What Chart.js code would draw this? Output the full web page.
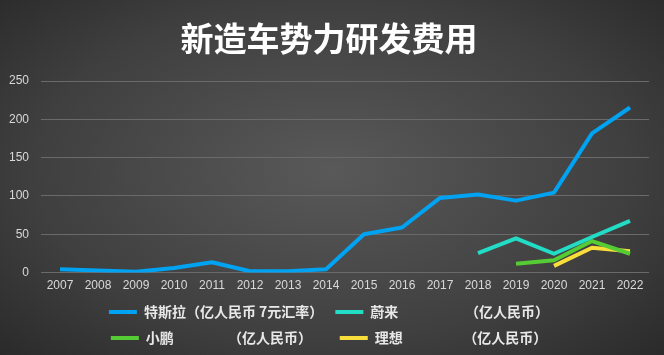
<!DOCTYPE html>
<html>
<head>
<meta charset="utf-8">
<script src="https://cdn.jsdelivr.net/npm/chart.js@4"></script>
<style>
  html, body { margin: 0; padding: 0; }
  body { width: 664px; height: 355px; overflow: hidden;
    background: radial-gradient(ellipse 75% 80% at 50% 48%, #595959 0%, #3f3f3f 60%, #262626 100%); }
  #wrap { position: relative; width: 664px; height: 355px; }
</style>
</head>
<body>
<div id="wrap"><canvas id="c"></canvas></div>
<script>
const titleText = '新造车势力研发费用';
const years = ['2007','2008','2009','2010','2011','2012','2013','2014','2015','2016','2017','2018','2019','2020','2021','2022'];
const seriesNames = [
  '特斯拉（亿人民币 7元汇率）',
  '蔚来                     （亿人民币）',
  '小鹏                 （亿人民币）     ',
  '理想                   （亿人民币）'
];
const tesla = [4.3, 2.6, 1, 6, 13.5, 1.7, 1.8, 4.4, 50, 58.8, 97.4, 101.8, 93.9, 104.4, 181.6, 215.4];
const nio   = [null, null, null, null, null, null, null, null, null, null, null, 25.4, 44.7, 24.6, 46.5, 67.5];
const xpeng = [null, null, null, null, null, null, null, null, null, null, null, null, 11.4, 16.2, 41.2, 24.6];
const li    = [null, null, null, null, null, null, null, null, null, null, null, null, null, 8.8, 32.5, 28];
const yTicks = [0, 50, 100, 150, 200, 250];
const colors = ['#00a2f2', '#22dcc6', '#55cc33', '#f7de3a'];

const fontCJK = "'Noto Sans CJK SC', 'Liberation Sans', sans-serif";
const fontNum = "'Liberation Sans', Arial, sans-serif";

const titleShadow = {
  id: 'titleShadow',
  afterDatasetsDraw(chart) {
    const ctx = chart.ctx;
    ctx.save();
    ctx.shadowColor = 'rgba(0,0,0,0.75)';
    ctx.shadowBlur = 3;
    ctx.shadowOffsetX = 2;
    ctx.shadowOffsetY = 2;
  },
  afterDraw(chart) {
    chart.ctx.restore();
  }
};

const data = [tesla, nio, xpeng, li];
new Chart(document.getElementById('c'), {
  type: 'line',
  data: {
    labels: years,
    datasets: data.map((d, i) => ({
      label: seriesNames[i],
      data: d,
      borderColor: colors[i],
      backgroundColor: colors[i],
      borderWidth: 4,
      pointRadius: 0,
      pointHoverRadius: 0,
      tension: 0,
      fill: false,
      spanGaps: false,
      borderCapStyle: 'butt',
      borderJoinStyle: 'round'
    }))
  },
  options: {
    responsive: true,
    maintainAspectRatio: false,
    animation: false,
    layout: { padding: { left: 9, right: 15, top: 0, bottom: 0 } },
    plugins: {
      title: {
        display: true,
        text: titleText,
        color: '#ffffff',
        font: { family: fontCJK, size: 33, weight: 'bold', lineHeight: 1.2 },
        padding: { top: 19, bottom: 22.4 },
        z: 1
      },
      legend: {
        display: true,
        position: 'bottom',
        labels: {
          color: '#e8e8e8',
          font: { family: fontCJK, size: 14, weight: 'bold' },
          boxWidth: 28,
          boxHeight: 4,
          padding: 12,
          generateLabels(chart) {
            return chart.data.datasets.map((ds, i) => ({
              text: ds.label,
              fillStyle: ds.borderColor,
              strokeStyle: ds.borderColor,
              lineWidth: 0,
              hidden: false,
              datasetIndex: i,
              fontColor: '#e8e8e8'
            }));
          }
        }
      },
      tooltip: { enabled: false }
    },
    scales: {
      x: {
        offset: true,
        grid: { display: true, color: 'rgba(0,0,0,0)', drawOnChartArea: false, drawTicks: true, tickLength: 6 },
        border: { display: false },
        ticks: { color: '#d9d9d9', font: { family: fontNum, size: 12 }, padding: 0, maxRotation: 0, autoSkip: false }
      },
      y: {
        min: 0,
        max: 250,
        afterBuildTicks(scale) { scale.ticks = yTicks.map(v => ({ value: v })); },
        afterFit(scale) { scale.width = 32; },
        grid: { color: '#6a6a6a', lineWidth: 1, drawTicks: false },
        border: { display: false },
        ticks: { color: '#d9d9d9', font: { family: fontNum, size: 12 }, padding: 12 }
      }
    }
  },
  plugins: [titleShadow]
});
</script>
</body>
</html>
